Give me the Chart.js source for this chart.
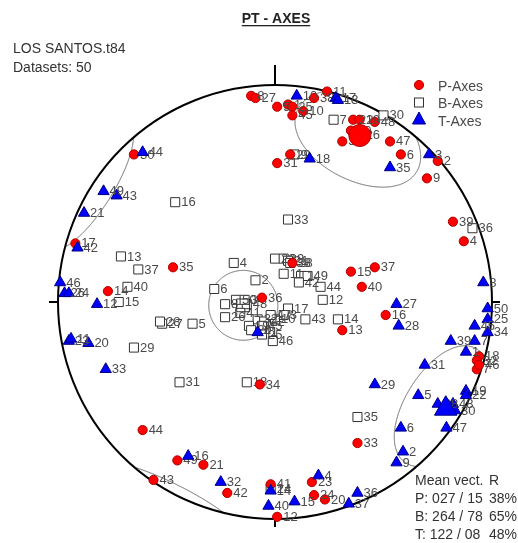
<!DOCTYPE html>
<html>
<head>
<meta charset="utf-8">
<script src="https://cdn.jsdelivr.net/npm/chart.js@4.4.0/dist/chart.umd.min.js"></script>
<style>
html,body{margin:0;padding:0;background:#fff;}
canvas{display:block;}
</style>
</head>
<body>
<canvas id="c" width="518" height="543"></canvas>
<script>
// Equal-area (Schmidt) lower-hemisphere projection coordinates, primitive radius = 1
// P-axes
const pLabels = ["8","27","5","1","25","45","10","38","11","22","19","48","26","3","47","6","2","9","29","31","30","17","35","14","44","43","34","49","21","42","41","12","23","24","20","33","39","4","15","37","40","16","13","18","32","7","36","28","46","50"];
const pX = [-0.11,-0.09,0.01,0.06,0.08,0.08,0.13,0.18,0.24,0.36,0.39,0.46,0.39,0.31,0.53,0.58,0.75,0.70,0.07,0.01,-0.65,-0.92,-0.47,-0.77,-0.61,-0.56,-0.07,-0.45,-0.33,-0.22,-0.02,0.01,0.17,0.18,0.23,0.38,0.82,0.87,0.35,0.46,0.40,0.51,0.31,0.94,0.93,0.93,-0.06,0.08,0.94,0.35];
const pY = [0.95,0.94,0.90,0.91,0.90,0.86,0.88,0.94,0.97,0.84,0.84,0.83,0.77,0.74,0.74,0.68,0.65,0.57,0.68,0.64,0.68,0.27,0.16,0.05,-0.59,-0.82,-0.38,-0.73,-0.75,-0.88,-0.84,-0.99,-0.83,-0.89,-0.91,-0.65,0.37,0.28,0.14,0.16,0.07,-0.06,-0.13,-0.25,-0.27,-0.31,0.02,0.18,-0.29,0.79];
// B-axes
const bLabels = ["7","30","9","16","33","4","23","39","21","11","1","49","42","44","12","2","6","8","50","48","26","17","3","43","32","22","10","19","20","46","14","5","31","18","35","36","13","37","40","15","27","28","29","24","45","34","47","38","25","41"];
const bX = [0.27,0.50,0.09,-0.46,0.06,-0.19,0.00,0.04,0.06,0.04,0.12,0.15,0.11,0.21,0.22,-0.09,-0.28,-0.23,-0.18,-0.13,-0.23,0.06,0.04,0.14,-0.08,-0.05,0.00,-0.12,-0.11,-0.01,0.29,-0.38,-0.44,-0.13,0.38,0.91,-0.71,-0.63,-0.68,-0.72,-0.52,-0.53,-0.65,-0.02,-0.06,-0.14,-0.02,0.07,-0.06,-0.16];
const bY = [0.84,0.86,0.68,0.46,0.38,0.18,0.20,0.20,0.19,0.13,0.12,0.12,0.09,0.07,0.01,0.10,0.06,-0.01,0.01,-0.01,-0.07,-0.03,-0.06,-0.08,-0.08,-0.09,-0.08,-0.11,-0.13,-0.18,-0.08,-0.10,-0.37,-0.37,-0.53,0.34,0.21,0.15,0.07,0.00,-0.10,-0.09,-0.21,-0.86,-0.11,0.01,-0.06,0.18,-0.15,-0.05];
// T-axes
const tLabels = ["10","17","13","18","35","3","44","49","43","21","42","46","26","24","12","23","11","20","33","16","32","14","40","15","4","36","37","29","5","38","48","30","19","22","6","47","2","9","8","50","25","45","34","7","39","1","31","27","28","41"];
const tX = [0.10,0.28,0.29,0.16,0.53,0.71,-0.61,-0.79,-0.73,-0.88,-0.91,-0.99,-0.97,-0.95,-0.82,-0.95,-0.94,-0.86,-0.78,-0.40,-0.25,-0.02,-0.03,0.09,0.20,0.38,0.34,0.46,0.66,0.75,0.82,0.83,0.88,0.88,0.58,0.79,0.59,0.56,0.96,0.98,0.98,0.92,0.98,0.92,0.81,0.88,0.69,0.56,0.57,-0.08];
const tY = [0.95,0.94,0.93,0.66,0.62,0.68,0.69,0.51,0.49,0.41,0.25,0.09,0.04,0.04,-0.01,-0.18,-0.17,-0.19,-0.31,-0.71,-0.83,-0.87,-0.94,-0.92,-0.80,-0.88,-0.93,-0.38,-0.43,-0.47,-0.47,-0.50,-0.41,-0.43,-0.58,-0.58,-0.69,-0.74,0.09,-0.03,-0.08,-0.11,-0.14,-0.18,-0.18,-0.23,-0.29,-0.01,-0.11,-0.14];
// Mean vectors (P, B, T): trend / plunge, R%, estimated confidence cone half-angle
const meanNames = ["P","B","T"];
const meanTrend = [27, 264, 122];
const meanPlunge = [15, 78, 8];
const meanR = [38, 65, 48];
const coneAngle = [20, 13, 19];

const FONT = "Arial, 'Liberation Sans', Helvetica, sans-serif";
const D2R = Math.PI / 180;
function project(trend, plunge) {
  const r = Math.SQRT2 * Math.sin((90 - plunge) * D2R / 2);
  return { x: r * Math.sin(trend * D2R), y: r * Math.cos(trend * D2R) };
}
function pts(xs, ys) { return xs.map((x, i) => ({ x: x, y: ys[i] })); }
function cone(trendDeg, plungeDeg, alphaDeg) {
  const t = trendDeg * D2R, p = plungeDeg * D2R, a = alphaDeg * D2R;
  const A = [Math.cos(p) * Math.cos(t), Math.cos(p) * Math.sin(t), Math.sin(p)];
  const U = [-Math.sin(p) * Math.cos(t), -Math.sin(p) * Math.sin(t), Math.cos(p)];
  const V = [-Math.sin(t), Math.cos(t), 0];
  const segs = []; let cur = null, prev = null;
  for (let k = 0; k <= 720; k++) {
    const th = k * 0.5 * D2R;
    let P = [0, 1, 2].map(i => A[i] * Math.cos(a) + (U[i] * Math.cos(th) + V[i] * Math.sin(th)) * Math.sin(a));
    const flip = P[2] < 0;
    if (flip) P = P.map(v => -v);
    const pl = Math.asin(Math.min(1, Math.max(-1, P[2]))) / D2R;
    const tr = Math.atan2(P[1], P[0]) / D2R;
    if (flip !== prev) { cur = []; segs.push(cur); prev = flip; }
    cur.push(project(tr, pl));
  }
  return segs;
}

const meanPts = meanTrend.map((t, i) => project(t, meanPlunge[i]));

const netPlugin = {
  id: 'net',
  beforeDraw(chart) {
    const ctx = chart.ctx;
    ctx.save(); ctx.fillStyle = '#fff'; ctx.fillRect(0, 0, chart.width, chart.height); ctx.restore();
  },
  beforeDatasetsDraw(chart) {
    const ctx = chart.ctx, xs = chart.scales.x, ys = chart.scales.y;
    const cx = xs.getPixelForValue(0), cy = ys.getPixelForValue(0);
    const R = xs.getPixelForValue(1) - cx;
    // confidence cones
    ctx.save();
    ctx.beginPath(); ctx.arc(cx, cy, R, 0, Math.PI * 2); ctx.clip();
    ctx.strokeStyle = '#666'; ctx.lineWidth = 1;
    meanTrend.forEach((t, i) => {
      cone(t, meanPlunge[i], coneAngle[i]).forEach(seg => {
        ctx.beginPath();
        seg.forEach((q, j) => {
          const px = xs.getPixelForValue(q.x), py = ys.getPixelForValue(q.y);
          if (j === 0) ctx.moveTo(px, py); else ctx.lineTo(px, py);
        });
        ctx.stroke();
      });
    });
    ctx.restore();
    // primitive circle and ticks
    ctx.save();
    ctx.strokeStyle = '#000'; ctx.lineWidth = 2;
    ctx.beginPath(); ctx.arc(cx, cy, R, 0, Math.PI * 2); ctx.stroke();
    ctx.beginPath();
    ctx.moveTo(cx, cy - R); ctx.lineTo(cx, cy - R - 20);
    ctx.moveTo(cx, cy + R); ctx.lineTo(cx, cy + R + 8);
    ctx.moveTo(cx - R, cy); ctx.lineTo(cx - R - 9, cy);
    ctx.moveTo(cx + R, cy); ctx.lineTo(cx + R + 8, cy);
    ctx.stroke();
    ctx.restore();
  },
  afterDatasetDraw(chart, args) {
    const ds = chart.data.datasets[args.index];
    if (!ds.ptLabels) return;
    const ctx = chart.ctx;
    ctx.save();
    ctx.font = '13px ' + FONT;
    ctx.fillStyle = '#4a4a4a';
    ctx.textBaseline = 'middle';
    ctx.textAlign = 'left';
    args.meta.data.forEach((el, i) => ctx.fillText(ds.ptLabels[i], el.x + 6, el.y + 0.5));
    ctx.restore();
  },
  afterDraw(chart) {
    const ctx = chart.ctx;
    ctx.save();
    // title
    ctx.font = 'bold 14px ' + FONT;
    ctx.fillStyle = '#222';
    ctx.textAlign = 'center'; ctx.textBaseline = 'alphabetic';
    const title = 'PT - AXES';
    ctx.fillText(title, 276, 23);
    const tw = ctx.measureText(title).width;
    ctx.fillRect(276 - tw / 2, 25, tw, 1.3);
    // header
    ctx.textAlign = 'left';
    ctx.font = '14px ' + FONT;
    ctx.fillStyle = '#333';
    ctx.fillText('LOS SANTOS.t84', 13, 53);
    ctx.fillText('Datasets: 50', 13, 71.5);
    // legend
    const lx = 419;
    ctx.lineWidth = 1;
    ctx.fillStyle = '#FF0000'; ctx.strokeStyle = '#B00000';
    ctx.beginPath(); ctx.arc(lx, 85, 4.6, 0, Math.PI * 2); ctx.fill(); ctx.stroke();
    ctx.fillStyle = '#fff'; ctx.strokeStyle = '#333';
    ctx.fillRect(lx - 4.5, 98, 9, 9); ctx.strokeRect(lx - 4.5, 98, 9, 9);
    ctx.fillStyle = '#0000FF'; ctx.strokeStyle = '#000080';
    ctx.beginPath(); ctx.moveTo(lx, 112); ctx.lineTo(lx + 6.5, 124); ctx.lineTo(lx - 6.5, 124); ctx.closePath(); ctx.fill(); ctx.stroke();
    ctx.fillStyle = '#4a4a4a';
    ctx.font = '14px ' + FONT;
    ctx.fillText('P-Axes', 438, 91);
    ctx.fillText('B-Axes', 438, 108);
    ctx.fillText('T-Axes', 438, 126);
    // mean vectors
    ctx.fillStyle = '#333';
    ctx.fillText('Mean vect.', 415, 485);
    ctx.fillText('R', 489, 485);
    meanNames.forEach((n, i) => {
      const tr = String(meanTrend[i]).padStart(3, '0');
      const pl = String(meanPlunge[i]).padStart(2, '0');
      const yb = 503 + i * 18;
      ctx.textAlign = 'left';
      ctx.fillText(n + ': ' + tr + ' / ' + pl, 415, yb);
      ctx.textAlign = 'right';
      ctx.fillText(meanR[i] + '%', 517, yb);
    });
    ctx.restore();
  }
};

new Chart(document.getElementById('c'), {
  type: 'scatter',
  data: {
    datasets: [
      { label: 'T mean', data: [meanPts[2]], pointStyle: 'triangle', pointRadius: 13, backgroundColor: '#0000FF', borderColor: '#000080', borderWidth: 1, clip: false },
      { label: 'P mean', data: [meanPts[0]], pointStyle: 'circle', pointRadius: 11, backgroundColor: '#FF0000', borderColor: '#B00000', borderWidth: 1, clip: false },
      { label: 'B mean', data: [meanPts[1]], pointStyle: 'rect', pointRadius: 9, backgroundColor: 'rgba(255,255,255,0)', borderColor: '#333', borderWidth: 1, clip: false },
      { label: 'T-Axes', data: pts(tX, tY), ptLabels: tLabels, pointStyle: 'triangle', pointRadius: 6.5, backgroundColor: '#0000FF', borderColor: '#000080', borderWidth: 1, clip: false },
      { label: 'P-Axes', data: pts(pX, pY), ptLabels: pLabels, pointStyle: 'circle', pointRadius: 4.6, backgroundColor: '#FF0000', borderColor: '#B00000', borderWidth: 1, clip: false },
      { label: 'B-Axes', data: pts(bX, bY), ptLabels: bLabels, pointStyle: 'rect', pointRadius: 6.4, backgroundColor: '#FFFFFF', borderColor: '#333', borderWidth: 1, clip: false }
    ]
  },
  options: {
    responsive: false,
    devicePixelRatio: 1,
    animation: false,
    events: [],
    layout: { padding: { left: 58, right: 26, top: 85, bottom: 24 } },
    plugins: { legend: { display: false }, tooltip: { enabled: false }, title: { display: false } },
    scales: {
      x: { type: 'linear', min: -1, max: 1, display: false },
      y: { type: 'linear', min: -1, max: 1, display: false }
    }
  },
  plugins: [netPlugin]
});
</script>
</body>
</html>
